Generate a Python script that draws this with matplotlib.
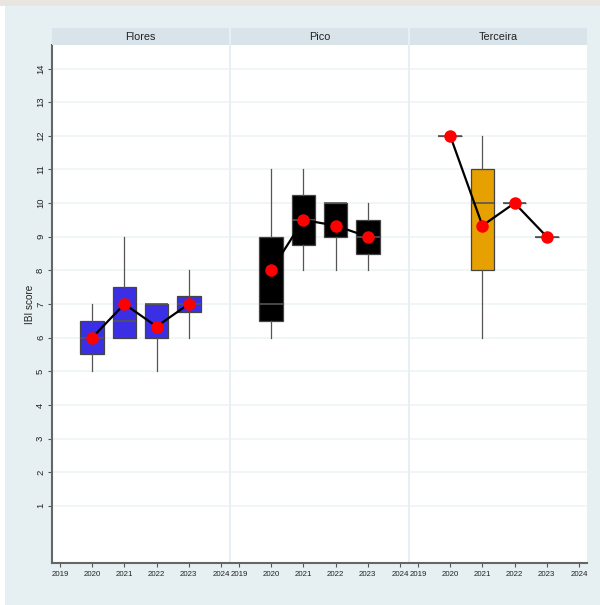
import matplotlib
matplotlib.use("Agg")
import matplotlib.pyplot as plt
from matplotlib.patches import Rectangle

plt.rcParams["font.family"] = ["Liberation Sans", "DejaVu Sans"]

# IBI score by island and year: box summaries plus yearly means
islands = ["Flores", "Pico", "Terceira"]
years = [2020, 2021, 2022, 2023]
box_colors = ["#3b2fe6", "#000000", "#e6a000"]

whislo = [[5, 6, 5, 6], [6, 8, 8, 8], [12, 6, 10, 9]]
q1 = [[5.5, 6, 6, 6.75], [6.5, 8.75, 9, 8.5], [12, 8, 10, 9]]
med = [[6, 6.5, 7, 7], [7, 9.5, 10, 9], [12, 10, 10, 9]]
q3 = [[6.5, 7.5, 7, 7.25], [9, 10.25, 10, 9.5], [12, 11, 10, 9]]
whishi = [[7, 9, 7, 8], [11, 11, 10, 10], [12, 12, 10, 9]]
means = [[6, 7, 6.33, 7], [8, 9.5, 9.33, 9], [12, 9.33, 10, 9]]

W, H = 600, 605
fig = plt.figure(figsize=(W / 100, H / 100), dpi=100)
fig.patch.set_facecolor("white")
bg = "#e6f0f2"
fig.add_artist(Rectangle((5 / W, 0), 1, (H - 6) / H, transform=fig.transFigure,
                         facecolor=bg, edgecolor="none", zorder=0))
fig.add_artist(Rectangle((0, (H - 6) / H), 1, 6 / H, transform=fig.transFigure,
                         facecolor="#e9e6e0", edgecolor="none", zorder=0))

lefts = [52, 231, 410]
pw = 177
top, bottom = 45, 563
strip_h = 17

for i, name in enumerate(islands):
    x0 = lefts[i]
    ax = fig.add_axes([x0 / W, (H - bottom) / H, pw / W, (bottom - top) / H])
    ax.set_facecolor("white")
    ax.set_xlim(2018.75, 2024.25)
    ax.set_ylim(-0.7, 14.7)
    for yv in range(1, 15):
        ax.axhline(yv, color="#edf3f5", lw=1.2, zorder=0)

    stats = []
    for j in range(len(years)):
        stats.append(dict(whislo=whislo[i][j], q1=q1[i][j], med=med[i][j],
                          q3=q3[i][j], whishi=whishi[i][j]))
    ax.bxp(stats, positions=years, widths=0.74, patch_artist=True,
           showfliers=False, showcaps=False, manage_ticks=False,
           boxprops=dict(facecolor=box_colors[i], edgecolor="#444444", lw=0.9),
           medianprops=dict(color="#555555", lw=1.2),
           whiskerprops=dict(color="#555555", lw=0.9), zorder=2)

    ax.plot(years, means[i], color="black", lw=1.6, zorder=3)
    ax.plot(years, means[i], "o", color="#ff0000", ms=9, mec="none", zorder=4)

    ax.set_xticks(range(2019, 2025))
    ax.set_xticklabels([str(y) for y in range(2019, 2025)], fontsize=5.7,
                       color="#222222")
    ax.tick_params(axis="x", length=3, width=0.8, color="#555555", pad=2.5)
    for s in ["top", "right"]:
        ax.spines[s].set_visible(False)
    ax.spines["bottom"].set_color("#666666")
    ax.spines["bottom"].set_linewidth(1.5)
    if i == 0:
        ax.spines["left"].set_color("#666666")
        ax.spines["left"].set_linewidth(1.5)
        ax.set_yticks(range(1, 15))
        ax.set_yticklabels([str(v) for v in range(1, 15)], fontsize=6.8,
                           rotation=90, va="center", color="#222222")
        ax.tick_params(axis="y", length=3, width=0.8, color="#555555", pad=2)
        ax.set_ylabel("IBI score", fontsize=7.2, color="#222222", labelpad=1)
    else:
        ax.spines["left"].set_visible(False)
        ax.set_yticks([])

    # facet header strip
    sax = fig.add_axes([x0 / W, (H - top) / H, pw / W, strip_h / H])
    sax.set_facecolor("#d8e4e9")
    sax.set_xticks([])
    sax.set_yticks([])
    for s in sax.spines.values():
        s.set_visible(False)
    sax.text(0.5, 0.5, name, ha="center", va="center", fontsize=7.8,
             color="#222222", transform=sax.transAxes)

fig.savefig("out.png", dpi=100, facecolor=fig.get_facecolor())
